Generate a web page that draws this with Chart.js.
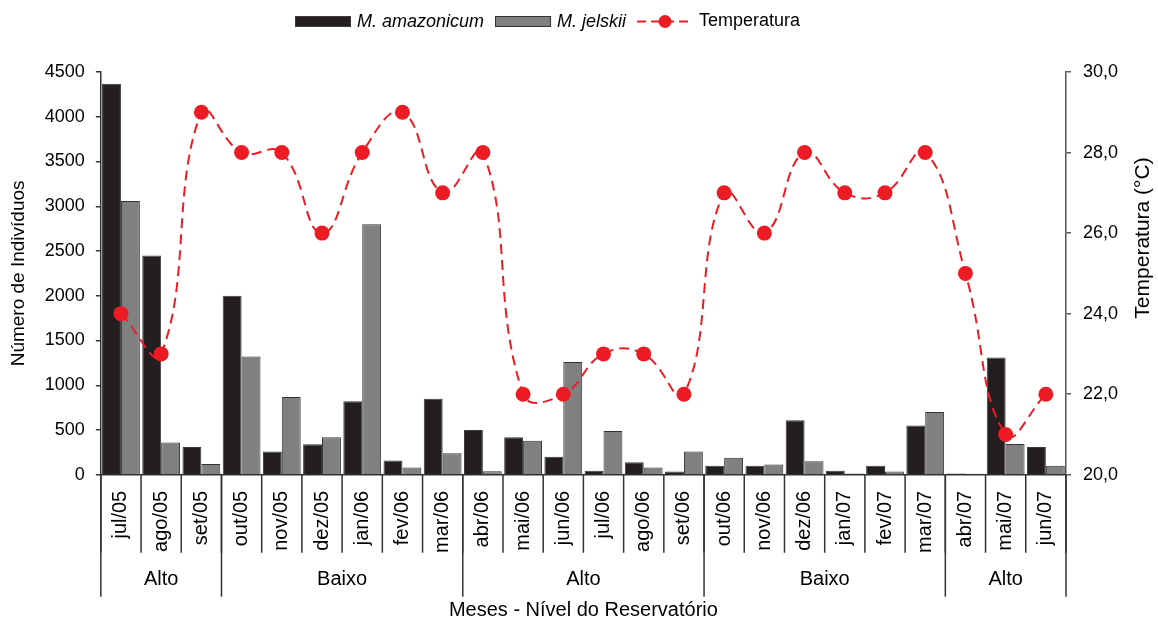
<!DOCTYPE html>
<html>
<head>
<meta charset="utf-8">
<script src="https://cdn.jsdelivr.net/npm/chart.js@4.4.0/dist/chart.umd.min.js"></script>
<style>
  html, body { margin: 0; padding: 0; background: #fff; }
  #wrap { width: 1158px; height: 626px; }
</style>
</head>
<body>
<div id="wrap"><canvas id="grafico"></canvas></div>
<script>
// Meses de coleta e nível do reservatório
const meses = ['jul/05', 'ago/05', 'set/05', 'out/05', 'nov/05', 'dez/05', 'jan/06', 'fev/06', 'mar/06',
  'abr/06', 'mai/06', 'jun/06', 'jul/06', 'ago/06', 'set/06', 'out/06', 'nov/06', 'dez/06',
  'jan/07', 'fev/07', 'mar/07', 'abr/07', 'mai/07', 'jun/07'];
const niveis = ['Alto', 'Baixo', 'Alto', 'Baixo', 'Alto'];
const mesesPorNivel = [3, 6, 6, 6, 3];

// Número de indivíduos por espécie
const amazonicum = [4370, 2450, 310, 2000, 260, 340, 820, 160, 850, 500, 420, 200,
  45, 140, 35, 100, 100, 610, 45, 100, 550, 15, 1310, 310];
const jelskii = [3060, 360, 120, 1320, 870, 420, 2800, 80, 240, 40, 380, 1260,
  490, 80, 260, 190, 115, 150, 15, 35, 700, 10, 345, 100];

// Temperatura (°C)
const temperatura = [24, 23, 29, 28, 28, 26, 28, 29, 27, 28, 22, 22,
  23, 23, 22, 27, 26, 28, 27, 27, 28, 25, 21, 22];

// Marcas dos eixos
const ticksIndividuos = [0, 500, 1000, 1500, 2000, 2500, 3000, 3500, 4000, 4500];
const ticksTemperatura = [20, 22, 24, 26, 28, 30];

const FONTE = '"Liberation Sans", Arial, sans-serif';
Chart.defaults.font.family = FONTE;
Chart.defaults.color = '#000';

// Legenda desenhada no topo (linha tracejada com ponto para a temperatura)
const legendaPlugin = {
  id: 'legendaTopo',
  afterDraw(chart) {
    const ctx = chart.ctx;
    const ds = chart.data.datasets;
    const y = 21.5;
    ctx.save();
    ctx.textBaseline = 'middle';
    const itens = [
      { tipo: 'barra', ds: ds[0], fonte: 'italic 18px ' + FONTE },
      { tipo: 'barra', ds: ds[1], fonte: 'italic 18px ' + FONTE },
      { tipo: 'linha', ds: ds[2], fonte: '18px ' + FONTE }
    ];
    let x = 295;
    itens.forEach(it => {
      if (it.tipo === 'barra') {
        ctx.fillStyle = it.ds.backgroundColor;
        ctx.strokeStyle = it.ds.borderColor;
        ctx.lineWidth = 1;
        ctx.fillRect(x, y - 5.5, 56, 11);
        ctx.strokeRect(x + 0.5, y - 5, 55, 10);
      } else {
        ctx.strokeStyle = it.ds.borderColor;
        ctx.lineWidth = 2;
        ctx.setLineDash([9, 5]);
        ctx.beginPath();
        ctx.moveTo(x, y);
        ctx.lineTo(x + 56, y);
        ctx.stroke();
        ctx.setLineDash([]);
        ctx.fillStyle = it.ds.pointBackgroundColor;
        ctx.beginPath();
        ctx.arc(x + 28, y, 6.5, 0, Math.PI * 2);
        ctx.fill();
      }
      x += 56 + 6;
      ctx.font = it.fonte;
      ctx.fillStyle = '#000';
      ctx.textAlign = 'left';
      ctx.fillText(it.ds.label, x, y);
      x += ctx.measureText(it.ds.label).width + 11;
    });
    ctx.restore();
  }
};

// Separadores dos meses, níveis do reservatório e título do eixo da temperatura
const nivelPlugin = {
  id: 'nivelReservatorio',
  afterDraw(chart) {
    const ctx = chart.ctx;
    const sx = chart.scales.x;
    const base = chart.chartArea.bottom;
    const larg = sx.getPixelForValue(1) - sx.getPixelForValue(0);
    const borda = i => sx.getPixelForValue(i) - larg / 2;
    ctx.save();
    ctx.strokeStyle = '#333';
    ctx.lineWidth = 1.5;
    for (let i = 0; i <= meses.length; i++) {
      ctx.beginPath();
      ctx.moveTo(borda(i), base);
      ctx.lineTo(borda(i), base + 78);
      ctx.stroke();
    }
    let inicio = 0;
    ctx.font = '20px ' + FONTE;
    ctx.fillStyle = '#000';
    ctx.textAlign = 'center';
    ctx.textBaseline = 'middle';
    ctx.beginPath();
    ctx.moveTo(borda(0), base);
    ctx.lineTo(borda(0), base + 122);
    ctx.stroke();
    niveis.forEach((nome, g) => {
      const fim = inicio + mesesPorNivel[g];
      ctx.beginPath();
      ctx.moveTo(borda(fim), base);
      ctx.lineTo(borda(fim), base + 122);
      ctx.stroke();
      ctx.fillText(nome, (borda(inicio) + borda(fim)) / 2, base + 105);
      inicio = fim;
    });

    // título do eixo direito, lido de baixo para cima
    ctx.translate(1143, 238);
    ctx.rotate(-Math.PI / 2);
    ctx.font = '21px ' + FONTE;
    ctx.fillText('Temperatura (°C)', 0, 0);
    ctx.restore();
  }
};

const ctx = document.getElementById('grafico').getContext('2d');
new Chart(ctx, {
  data: {
    labels: meses,
    datasets: [
      {
        type: 'bar',
        label: 'M. amazonicum',
        data: amazonicum,
        backgroundColor: '#231f20',
        borderColor: '#3a3a3a',
        borderWidth: 1,
        yAxisID: 'y',
        order: 2,
        barPercentage: 1,
        categoryPercentage: 0.94
      },
      {
        type: 'bar',
        label: 'M. jelskii',
        data: jelskii,
        backgroundColor: '#808080',
        borderColor: '#333333',
        borderWidth: 1,
        yAxisID: 'y',
        order: 2,
        barPercentage: 1,
        categoryPercentage: 0.94
      },
      {
        type: 'line',
        label: 'Temperatura',
        data: temperatura,
        borderColor: '#ed1c24',
        borderWidth: 2,
        borderDash: [10, 6],
        tension: 0.45,
        pointRadius: 7.5,
        pointHoverRadius: 7.5,
        pointBackgroundColor: '#ed1c24',
        pointBorderWidth: 0,
        fill: false,
        yAxisID: 'y1',
        order: 1
      }
    ]
  },
  options: {
    responsive: true,
    maintainAspectRatio: false,
    animation: false,
    layout: { padding: { top: 72, left: 7, right: 28, bottom: 0 } },
    plugins: {
      legend: { display: false },
      tooltip: { enabled: false }
    },
    scales: {
      x: {
        grid: { display: false, drawTicks: false },
        border: { color: '#333', width: 1.5 },
        ticks: {
          autoSkip: false,
          minRotation: 90,
          maxRotation: 90,
          padding: 16,
          font: { size: 20 },
          color: '#000'
        },
        title: {
          display: true,
          text: 'Meses - Nível do Reservatório',
          font: { size: 20 },
          color: '#000',
          padding: { top: 29, bottom: 4 }
        }
      },
      y: {
        position: 'left',
        min: 0,
        max: 4500,
        afterBuildTicks: s => { s.ticks = ticksIndividuos.map(v => ({ value: v })); },
        grid: { drawOnChartArea: false, drawTicks: true, tickLength: 5, color: '#333', lineWidth: 1.5 },
        border: { color: '#333', width: 1.5 },
        ticks: { font: { size: 18 }, padding: 11, color: '#000', callback: v => String(v) },
        title: {
          display: true,
          text: 'Número de Indivíduos',
          font: { size: 19 },
          color: '#000',
          padding: { top: 0, bottom: 4 }
        }
      },
      y1: {
        position: 'right',
        min: 20,
        max: 30,
        afterBuildTicks: s => { s.ticks = ticksTemperatura.map(v => ({ value: v })); },
        grid: { drawOnChartArea: false, drawTicks: true, tickLength: 5, color: '#555', lineWidth: 1.5 },
        border: { color: '#555', width: 1.5 },
        ticks: {
          font: { size: 18 },
          padding: 12,
          color: '#000',
          callback: v => v.toFixed(1).replace('.', ',')
        }
      }
    }
  },
  plugins: [legendaPlugin, nivelPlugin]
});
</script>
</body>
</html>
